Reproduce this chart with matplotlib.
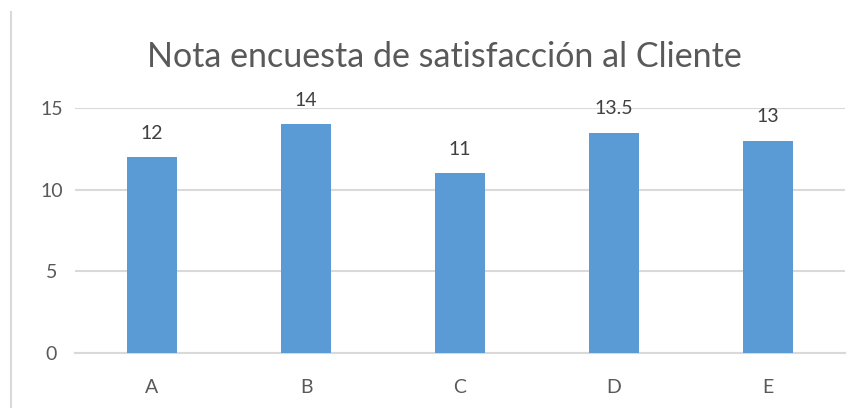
import matplotlib.pyplot as plt
from matplotlib.lines import Line2D

categories = ['A', 'B', 'C', 'D', 'E']
scores = [12, 14, 11, 13.5, 13]
score_labels = ['12', '14', '11', '13.5', '13']
y_ticks = [0, 5, 10, 15]

plt.rcParams['font.family'] = ['Lato', 'DejaVu Sans']
text_color = '#595959'
grid_color = '#d9d9d9'

fig = plt.figure(figsize=(8.61, 4.08), dpi=100)
ax = fig.add_axes([75 / 861, 1 - 353 / 408, 770 / 861, 245 / 408])

x = range(len(categories))
bars = ax.bar(x, scores, width=0.325, color='#5b9bd5', zorder=3)
for b, lab in zip(bars, score_labels):
    ax.annotate(lab, (b.get_x() + b.get_width() / 2, b.get_height()),
                xytext=(0, 11), textcoords='offset points', ha='center', va='bottom',
                fontsize=14, color='#404040', annotation_clip=False)

ax.set_xlim(-0.5, len(categories) - 0.5)
ax.set_ylim(0, 15)
ax.set_yticks(y_ticks)
ax.set_xticks(list(x))
ax.set_xticklabels(categories)
ax.tick_params(axis='both', length=0, labelsize=14, labelcolor=text_color)
ax.tick_params(axis='x', pad=19)
for lab in ax.get_yticklabels():
    lab.set_horizontalalignment('center')
ax.tick_params(axis='y', pad=17)
ax.grid(axis='y', color=grid_color, linewidth=1.5, zorder=0)
for s in ['top', 'right', 'left']:
    ax.spines[s].set_visible(False)
ax.spines['bottom'].set_color(grid_color)
ax.spines['bottom'].set_linewidth(1.5)

fig.text(444 / 861, 1 - 57 / 408, 'Nota encuesta de satisfacción al Cliente',
         ha='center', va='center', fontsize=24.5, color=text_color)

fig.add_artist(Line2D([11 / 861, 11 / 861], [0, 1 - 12 / 408], color=grid_color, linewidth=1.5))

fig.savefig('out.png', dpi=100, facecolor='white')
